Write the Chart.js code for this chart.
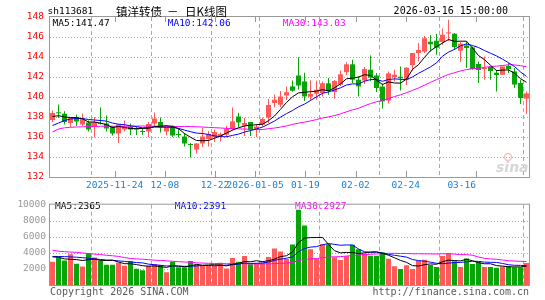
<!DOCTYPE html>
<html>
<head>
<meta charset="utf-8">
<script src="https://cdn.jsdelivr.net/npm/chart.js@4.4.0/dist/chart.umd.min.js"></script>
<style>
  html, body { margin: 0; padding: 0; background: #fff; }
  #wrap { position: relative; width: 545px; height: 300px; overflow: hidden; }
  #wrap canvas { position: absolute; left: 0; }
  #kline { top: 0; }
  #vol { top: 195px; }
</style>
</head>
<body>
<div id="wrap">
  <canvas id="kline" width="545" height="195"></canvas>
  <canvas id="vol" width="545" height="105"></canvas>
</div>
<script>
// daily k-line for sh113681
const symbol = 'sh113681';
const title = ['镇洋转债', '－', '日K线图'];
const stamp = '2026-03-16 15:00:00';

const dates = ['2025-11-13','2025-11-14','2025-11-17','2025-11-18','2025-11-19','2025-11-20','2025-11-21','2025-11-24','2025-11-25','2025-11-26',
  '2025-11-27','2025-11-28','2025-12-01','2025-12-02','2025-12-03','2025-12-04','2025-12-05','2025-12-08','2025-12-09','2025-12-10',
  '2025-12-11','2025-12-12','2025-12-15','2025-12-16','2025-12-17','2025-12-18','2025-12-19','2025-12-22','2025-12-23','2025-12-24',
  '2025-12-25','2025-12-26','2025-12-29','2025-12-30','2025-12-31','2026-01-05','2026-01-06','2026-01-07','2026-01-08','2026-01-09',
  '2026-01-12','2026-01-13','2026-01-14','2026-01-15','2026-01-16','2026-01-19','2026-01-20','2026-01-21','2026-01-22','2026-01-23',
  '2026-01-26','2026-01-27','2026-01-28','2026-01-29','2026-01-30','2026-02-02','2026-02-03','2026-02-04','2026-02-05','2026-02-06',
  '2026-02-09','2026-02-10','2026-02-11','2026-02-12','2026-02-13','2026-02-24','2026-02-25','2026-02-26','2026-02-27','2026-03-02',
  '2026-03-03','2026-03-04','2026-03-05','2026-03-06','2026-03-09','2026-03-10','2026-03-11','2026-03-12','2026-03-13','2026-03-16'];

const labelDates = ['2025-11-24','2025-12-08','2025-12-22','2026-01-05','2026-01-19','2026-02-02','2026-02-24','2026-03-16'];
const priceTicks = [132, 134, 136, 138, 140, 142, 144, 146, 148];
const volTicks = [0, 2000, 4000, 6000, 8000, 10000];

const open = [137.7,138.43,138.33,137.4,137.97,137.25,137.45,137.05,137.4,137.35,
  137.0,136.35,136.75,137.0,136.9,136.58,136.55,137.35,137.5,136.55,
  137.0,136.28,136.05,135.27,134.75,135.35,135.8,136.0,136.1,136.23,
  136.8,138.05,137.13,137.5,136.8,137.23,137.95,139.4,139.23,140.15,
  141.06,142.15,141.56,140.03,140.32,140.4,141.37,140.5,141.23,142.48,
  143.27,141.73,141.65,142.73,142.15,141.05,139.65,141.98,142.03,141.73,
  143.18,144.4,144.53,145.53,145.63,145.5,146.36,146.33,144.63,145.16,
  144.96,143.3,142.8,143.0,142.43,142.23,143.1,142.56,141.4,139.83];
const high = [138.65,139.25,138.57,138.0,138.25,138.35,137.65,138.0,138.95,138.15,
  137.1,137.3,137.65,137.35,137.05,136.9,137.5,138.45,137.95,137.15,
  137.15,136.85,136.4,135.4,135.4,136.95,136.6,136.75,136.45,137.1,
  138.95,138.42,137.9,137.5,137.3,137.96,139.8,140.25,140.6,141.05,
  141.65,143.98,142.43,141.68,141.65,141.56,141.9,141.7,142.65,143.48,
  143.73,142.06,143.0,144.15,142.4,141.35,142.56,142.73,143.06,143.0,
  144.4,145.4,146.1,146.2,146.3,146.85,147.73,146.4,145.5,145.56,
  145.06,143.56,144.06,143.1,142.73,143.06,143.4,142.9,141.73,140.56];
const low = [137.5,137.9,137.25,137.0,137.1,137.1,136.55,135.95,137.25,136.55,
  136.15,135.4,136.55,136.2,136.2,136.2,136.0,137.05,136.45,136.15,
  136.0,135.95,135.05,133.95,134.35,135.0,135.05,135.5,135.55,136.0,
  136.65,136.95,136.1,136.1,136.0,137.06,137.4,138.95,139.0,139.7,
  140.56,140.75,139.6,139.6,139.73,140.06,140.23,139.85,141.1,142.18,
  141.4,140.06,141.3,141.6,140.5,138.85,139.35,141.56,140.65,141.2,
  142.63,143.56,144.4,144.56,144.23,145.23,145.6,144.7,143.5,142.9,
  142.73,141.4,141.73,141.73,140.56,142.2,142.4,140.9,139.3,138.33];
const close = [138.4,138.37,137.5,137.9,137.55,137.8,136.75,137.5,137.3,136.85,
  136.35,137.25,137.05,136.75,136.75,136.5,137.3,137.85,137.0,137.0,
  136.15,136.2,135.35,135.2,135.35,136.05,136.3,136.5,136.3,136.8,
  137.56,137.46,137.4,136.7,137.05,137.8,139.2,139.73,140.05,140.48,
  140.63,141.15,140.06,140.32,140.73,141.37,140.6,141.6,142.27,143.27,
  141.73,141.06,142.8,141.95,140.9,139.56,142.36,142.23,141.88,142.93,
  144.4,144.7,145.87,145.27,144.93,146.23,146.43,145.0,145.33,144.9,
  142.8,142.7,142.9,142.6,142.2,143.06,142.8,141.25,139.9,140.36];

const ma5 = [138.05,138.13,138.0,137.95,137.94,137.82,137.5,137.5,137.38,137.24,
  136.95,137.05,136.96,136.85,136.83,136.86,136.87,137.03,137.08,137.13,
  137.06,136.84,136.34,135.98,135.65,135.63,135.65,135.88,136.1,136.39,
  136.69,136.92,137.1,137.18,137.23,137.28,137.63,138.1,138.77,139.45,
  140.02,140.41,140.47,140.53,140.58,140.73,140.62,140.92,141.31,141.82,
  141.89,141.99,142.23,142.16,141.69,141.25,141.51,141.4,141.39,141.79,
  142.76,143.23,143.96,144.63,145.03,145.4,145.75,145.57,145.58,145.58,
  144.89,144.15,143.73,143.18,142.64,142.69,142.71,142.38,141.84,141.47];
const ma10 = [137.15,137.4,137.65,137.8,137.85,137.85,137.75,137.7,137.65,137.59,
  137.39,137.28,137.23,137.12,137.04,136.91,136.96,137.0,136.97,136.98,
  136.96,136.86,136.69,136.53,136.39,136.35,136.25,136.11,136.04,136.02,
  136.16,136.29,136.49,136.64,136.81,136.99,137.28,137.6,137.98,138.34,
  138.65,139.02,139.29,139.65,140.02,140.37,140.51,140.7,140.92,141.2,
  141.31,141.3,141.58,141.74,141.76,141.57,141.75,141.81,141.77,141.74,
  142.01,142.37,142.68,143.01,143.41,144.08,144.49,144.76,145.11,145.31,
  145.15,144.95,144.65,144.38,144.11,143.79,143.43,143.05,142.51,142.06];
const ma30 = [136.5,136.8,136.92,136.97,137.0,137.02,137.04,137.06,137.07,137.08,
  137.08,137.07,137.07,137.08,137.09,137.1,137.09,137.08,137.08,137.07,
  137.06,137.05,137.06,137.05,137.02,137.0,136.96,136.93,136.9,136.86,
  136.84,136.81,136.8,136.76,136.75,136.75,136.83,136.9,136.99,137.11,
  137.26,137.39,137.49,137.61,137.74,137.9,138.01,138.14,138.31,138.52,
  138.71,138.87,139.12,139.34,139.53,139.64,139.85,140.04,140.22,140.43,
  140.66,140.9,141.18,141.47,141.73,142.01,142.25,142.43,142.6,142.75,
  142.82,142.87,142.97,143.04,143.09,143.15,143.22,143.21,143.13,143.03];

const volume = [2880,3440,3040,3830,2645,2290,3950,3440,3040,2530,
  2530,2760,2410,3000,2015,1850,2410,2610,2490,1580,
  2880,2210,2210,3000,2530,2370,2370,2370,2760,2050,
  3360,2880,3600,2570,2720,2760,3480,4560,4170,3250,
  5030,9380,7400,4440,3310,5070,5070,3450,3120,3570,
  5000,4440,3920,3650,3650,4040,3270,2345,1995,2460,
  1995,3035,3150,2490,2230,3610,3960,2960,2230,3300,
  2620,2820,2250,2250,2145,2300,2380,2200,2200,2745];
const volMa5 = [3500,3450,3250,3200,3167,3049,3151,3231,3073,3050,
  3098,2860,2654,2646,2543,2407,2337,2377,2275,2188,
  2394,2354,2274,2376,2566,2464,2496,2528,2480,2384,
  2582,2684,2930,2892,3026,2906,3026,3218,3538,3644,
  4098,5278,5846,5900,5912,5920,5058,4268,4004,4056,
  4042,3916,4010,4116,4132,3940,3706,3391,3060,2822,
  2413,2366,2527,2626,2580,2903,3088,3050,2998,3212,
  3014,2786,2644,2648,2417,2353,2265,2255,2245,2365];
const volMa10 = [3560,3550,3530,3500,3460,3400,3330,3250,3180,3109,
  3074,3006,2943,2860,2797,2753,2599,2516,2461,2366,
  2401,2346,2326,2326,2377,2429,2425,2401,2428,2475,
  2523,2590,2729,2686,2705,2744,2855,3074,3215,3335,
  3502,4152,4532,4719,4778,5009,5168,5057,4952,4984,
  4981,4487,4139,4060,4094,3991,3811,3701,3588,3477,
  3177,3036,2959,2843,2701,2658,2727,2789,2812,2896,
  2959,2937,2847,2823,2815,2684,2526,2450,2447,2391];
const volMa30 = [4330,4210,4150,4100,4060,3990,3900,3850,3790,3700,
  3640,3560,3420,3300,3250,3210,3160,3090,3060,3020,
  2950,2900,2870,2820,2760,2730,2700,2680,2660,2650,
  2666,2647,2666,2624,2626,2642,2626,2664,2701,2725,
  2809,3029,3196,3244,3287,3394,3483,3511,3532,3598,
  3669,3743,3800,3822,3859,3915,3945,3944,3918,3932,
  3887,3892,3877,3874,3858,3886,3902,3849,3784,3786,
  3705,3487,3315,3242,3203,3111,3021,2984,2953,2927];

const RED = '#ff5a5a';
const GREEN = '#08a508';
const GRID = '#a8a8a8';
const FRAME = '#999';
const MONO = '"DejaVu Sans Mono", "Liberation Mono", monospace';

const barColors = open.map((o, i) => close[i] >= o ? RED : GREEN);
const labelIdx = labelDates.map(d => dates.indexOf(d));
const tickText = labelDates.map((d, i) => {
  let s = (i === 0 || d.slice(0, 4) !== labelDates[i - 1].slice(0, 4)) ? d : d.slice(5);
  if (i === labelDates.length - 1) s += '     '; // last label sits left of its tick
  return s;
});

function pts(arr) {
  return arr.map((v, i) => ({ x: i, y: v }));
}

function maLine(label, arr, color) {
  return {
    type: 'line', label: label, data: pts(arr),
    borderColor: color, borderWidth: 1, pointRadius: 0, tension: 0, order: 0
  };
}

function line(ctx, x1, y1, x2, y2) {
  ctx.beginPath();
  ctx.moveTo(x1, y1);
  ctx.lineTo(x2, y2);
  ctx.stroke();
}

// dotted value grid + dashed date grid
function drawGrid(chart, values) {
  const { ctx, chartArea: a, scales } = chart;
  ctx.save();
  ctx.strokeStyle = GRID;
  ctx.lineWidth = 1;
  ctx.setLineDash([1, 2]);
  values.forEach(v => {
    const y = Math.round(scales.y.getPixelForValue(v)) + 0.5;
    line(ctx, a.left, y, a.right, y);
  });
  ctx.setLineDash([4, 3]);
  labelIdx.forEach(i => {
    const x = Math.floor(scales.x.getPixelForValue(i - 0.5)) + 0.5;
    line(ctx, x, a.top, x, a.bottom);
  });
  ctx.restore();
}

function drawFrame(chart) {
  const { ctx, chartArea: a } = chart;
  ctx.save();
  ctx.strokeStyle = FRAME;
  ctx.lineWidth = 1;
  ctx.strokeRect(a.left - 0.5, a.top - 0.5, a.right - a.left + 1, a.bottom - a.top + 1);
  ctx.restore();
}

function drawLabels(ctx, y, items) {
  ctx.save();
  ctx.font = '9.5px ' + MONO;
  ctx.textBaseline = 'middle';
  items.forEach(it => {
    ctx.fillStyle = it[2];
    ctx.fillText(it[0], it[1], y);
  });
  ctx.restore();
}

const klinePlugin = {
  id: 'klineDecor',
  beforeDatasetsDraw(chart) {
    drawGrid(chart, priceTicks.slice(1, -1));
  },
  afterDatasetsDraw(chart) {
    const { ctx, chartArea: a, scales } = chart;
    drawFrame(chart);

    ctx.save();
    ctx.strokeStyle = FRAME;
    labelIdx.forEach(i => {
      const x = Math.round(scales.xl.getPixelForValue(i)) + 0.5;
      line(ctx, x, a.top, x, a.top + 5);
      line(ctx, x, a.bottom - 6, x, a.bottom);
    });
    ctx.restore();

    drawLabels(ctx, 23.7, [
      ['MA5:' + ma5[ma5.length - 1].toFixed(2), 52.5, '#000'],
      ['MA10:' + ma10[ma10.length - 1].toFixed(2), 167.7, '#0000ff'],
      ['MA30:' + ma30[ma30.length - 1].toFixed(2), 282.7, '#ff00ff']
    ]);
    drawLabels(ctx, 11.5, [[symbol, 47.5, '#000']]);

    ctx.save();
    ctx.fillStyle = '#000';
    ctx.textBaseline = 'middle';
    ctx.font = '10px ' + MONO;
    ctx.textAlign = 'right';
    ctx.fillText(stamp, 508, 11.5);
    ctx.textAlign = 'left';
    ctx.font = '11.5px "Noto Sans CJK SC"';
    ctx.fillText(title[0], 116, 11.5);
    ctx.fillText(title[1], 167, 11.5);
    ctx.fillText(title[2], 185, 11.5);

    // faint sina watermark
    ctx.strokeStyle = '#f2c4c4';
    ctx.lineWidth = 1.5;
    ctx.beginPath();
    ctx.arc(508, 157, 3.5, 0, Math.PI * 2);
    ctx.stroke();
    ctx.fillStyle = '#d6d6d6';
    ctx.font = 'italic bold 14px "DejaVu Sans"';
    ctx.textBaseline = 'alphabetic';
    ctx.fillText('sina', 496, 172);
    ctx.restore();
  }
};

const volPlugin = {
  id: 'volDecor',
  beforeDatasetsDraw(chart) {
    drawGrid(chart, volTicks.slice(1, -1));
    drawLabels(chart.ctx, 11.6, [
      ['MA5:' + volMa5[volMa5.length - 1], 55, '#000'],
      ['MA10:' + volMa10[volMa10.length - 1], 174.7, '#0000ff'],
      ['MA30:' + volMa30[volMa30.length - 1], 295, '#ff00ff']
    ]);
  },
  afterDatasetsDraw(chart) {
    const { ctx } = chart;
    drawFrame(chart);
    ctx.save();
    ctx.fillStyle = '#5a5a5a';
    ctx.font = '10px ' + MONO;
    ctx.textBaseline = 'middle';
    ctx.fillText('Copyright 2026 SINA.COM', 50, 97.7);
    ctx.textAlign = 'right';
    ctx.fillText('http://finance.sina.com.cn', 529, 97.7);
    ctx.restore();
  }
};

const xIndex = { type: 'linear', min: -0.42, max: 79.42, offset: false, display: false, grid: { offset: false } };

new Chart(document.getElementById('kline'), {
  type: 'bar',
  data: {
    datasets: [
      maLine('MA5', ma5, '#000'),
      maLine('MA10', ma10, '#0000ff'),
      maLine('MA30', ma30, '#ff00ff'),
      {
        type: 'bar', label: 'body',
        data: open.map((o, i) => ({ x: i, y: [o, close[i]] })),
        backgroundColor: barColors, barThickness: 5, minBarLength: 1,
        grouped: false, inflateAmount: 0, order: 1
      },
      {
        type: 'bar', label: 'wick',
        data: low.map((l, i) => ({ x: i, y: [l, high[i]] })),
        backgroundColor: barColors, barThickness: 1,
        grouped: false, inflateAmount: 0, order: 2
      }
    ]
  },
  options: {
    responsive: false,
    animation: false,
    events: [],
    layout: { padding: { left: 0, right: 16, top: 17, bottom: 0 } },
    plugins: { legend: { display: false }, tooltip: { enabled: false } },
    scales: {
      x: xIndex,
      xl: {
        type: 'linear', position: 'bottom', min: 0.09, max: 83.6,
        afterBuildTicks: s => { s.ticks = labelIdx.map(v => ({ value: v })); },
        afterFit: s => { s.height = 18; },
        grid: { display: false, drawTicks: false },
        border: { display: false },
        ticks: {
          autoSkip: false, maxRotation: 0, minRotation: 0, padding: 3,
          color: '#1a7fd0', font: { family: MONO, size: 9.5 },
          callback: (v, i) => tickText[i]
        }
      },
      y: {
        type: 'linear', position: 'left',
        min: priceTicks[0], max: priceTicks[priceTicks.length - 1],
        afterFit: s => { s.width = 50; },
        grid: { display: false, drawTicks: false },
        border: { display: false },
        ticks: { stepSize: 2, padding: 6, color: '#ff0000', font: { family: MONO, size: 9.5 } }
      }
    }
  },
  plugins: [klinePlugin]
});

new Chart(document.getElementById('vol'), {
  type: 'bar',
  data: {
    datasets: [
      maLine('MA5', volMa5, '#000'),
      maLine('MA10', volMa10, '#0000ff'),
      maLine('MA30', volMa30, '#ff00ff'),
      {
        type: 'bar', label: 'volume',
        data: pts(volume),
        backgroundColor: barColors, barThickness: 5,
        grouped: false, inflateAmount: 0, order: 1
      }
    ]
  },
  options: {
    responsive: false,
    animation: false,
    events: [],
    layout: { padding: { left: 0, right: 16, top: 6, bottom: 15 } },
    plugins: { legend: { display: false }, tooltip: { enabled: false } },
    scales: {
      x: xIndex,
      y: {
        type: 'linear', position: 'left',
        min: volTicks[0], max: volTicks[volTicks.length - 1],
        afterFit: s => { s.width = 50; },
        grid: { display: false, drawTicks: false },
        border: { display: false },
        ticks: {
          stepSize: 2000, padding: 4, color: '#999', font: { family: MONO, size: 9.5 },
          callback: v => v === 0 ? '' : v
        }
      }
    }
  },
  plugins: [volPlugin]
});
</script>
</body>
</html>
